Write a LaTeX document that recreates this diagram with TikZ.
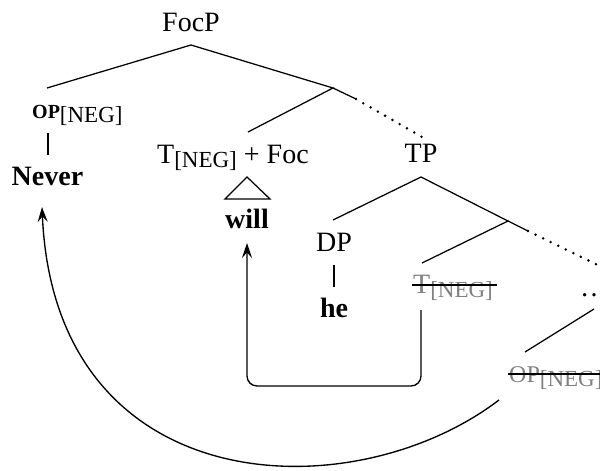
\documentclass[tikz,border=0pt]{standalone}
\usepackage{fontspec}
\setmainfont{Liberation Serif}
\usetikzlibrary{arrows.meta}

% type sizes
\newcommand\mainsize{\fontsize{28}{32}\selectfont}
\newcommand\subsize{\fontsize{23}{26}\selectfont}
% the [NEG] feature, set as a lowered subscript
\newcommand\negsub{\raisebox{-4.5pt}{\subsize[NEG]}}
% deleted copy: grey text with a black line through it
\definecolor{copygray}{gray}{0.5}
\newcommand\xstrike[1]{\setbox0\hbox{#1}%
  \hbox{\textcolor{copygray}{\copy0}\kern-\wd0\kern-1pt\rule[7.5pt]{\dimexpr\wd0+5pt\relax}{1.1pt}\kern-4pt}}

\begin{document}
\begin{tikzpicture}[x=1pt,y=-1pt,
  lbl/.style={inner sep=0pt, anchor=base, font=\mainsize},
  branch/.style={line width=1.25pt},
  dotbranch/.style={line width=2.8pt, dash pattern=on 0pt off 8.4pt, line cap=round},
  move/.style={line width=1.35pt, -{Stealth[length=15pt,width=10pt,inset=5.5pt]}}]
\useasboundingbox (0,0) rectangle (600,471);
\clip (0,0) rectangle (600,471);

% labels
\node[lbl] (FocP) at (191,31) {FocP};
\node[lbl, anchor=base west] (OP) at (32,118) {\textbf{\fontsize{20}{20}\selectfont OP}\negsub};
\node[lbl] (Never) at (47.5,185) {\textbf{Never}};
\node[lbl, anchor=base west] (TFoc) at (157,163) {T\negsub{} + Foc};
\node[lbl] (will) at (247,228) {\textbf{will}};
\node[lbl] (TP) at (421,162) {TP};
\node[lbl] (DP) at (334,251) {DP};
\node[lbl] (he) at (334,317) {\textbf{he}};
\node[lbl, anchor=base west] (Tcopy) at (413,293) {\xstrike{T\negsub}};
\node[lbl, anchor=base west] (more) at (580,296) {\dots};
\node[lbl, anchor=base west] (OPcopy) at (509,382) {\xstrike{\fontsize{24}{24}\selectfont OP\fontsize{28}{32}\selectfont\negsub}};

% branch points
\coordinate (focp-b) at (191,45);
\coordinate (op-t) at (47,88);
\coordinate (focbar) at (333,88);
\coordinate (tfoc-t) at (248,132);
\coordinate (focbar-s) at (356,99);
\coordinate (tp-t) at (422,137);
\coordinate (tp-b) at (421,177);
\coordinate (dp-t) at (333,220);
\coordinate (tbar) at (508,221);
\coordinate (tcopy-t) at (422,263);
\coordinate (tbar-s) at (528,231);
\coordinate (tbar-e) at (612,272);
\coordinate (more-b) at (594,309);
\coordinate (opcopy-t) at (525,352);
\coordinate (op-b) at (48,133);
\coordinate (never-t) at (48,155);
\coordinate (dp-b) at (334,265);
\coordinate (he-t) at (334,287);
\coordinate (roof-top) at (247,177);
\coordinate (roof-l) at (225,199);
\coordinate (roof-r) at (270,199);

% tree
\draw[branch] (op-t) -- (focp-b) -- (focbar) -- (tfoc-t);
\draw[branch] (focbar) -- (focbar-s);
\draw[dotbranch] (focbar-s) -- (tp-t);
\draw[branch] (dp-t) -- (tp-b) -- (tbar) -- (tcopy-t);
\draw[branch] (tbar) -- (tbar-s);
\draw[dotbranch] (tbar-s) -- (tbar-e);
\draw[branch] (more-b) -- (opcopy-t);
\draw[branch] (op-b) -- (never-t);
\draw[branch] (dp-b) -- (he-t);
\draw[branch, line join=miter] (roof-top) -- (roof-r) -- (roof-l) -- cycle;

% movement arrows
\coordinate (tcopy-b) at (421,310);
\coordinate (mv-corner) at (247,386);
\coordinate (will-b) at (247,243);
\draw[move, rounded corners=10pt] (tcopy-b) |- (mv-corner) -- (will-b);

\coordinate (opcopy-b) at (499,400);
\coordinate (never-b) at (42,207);
\draw[move] (opcopy-b) .. controls (352,512) and (55,502) .. (never-b);
\end{tikzpicture}
\end{document}
